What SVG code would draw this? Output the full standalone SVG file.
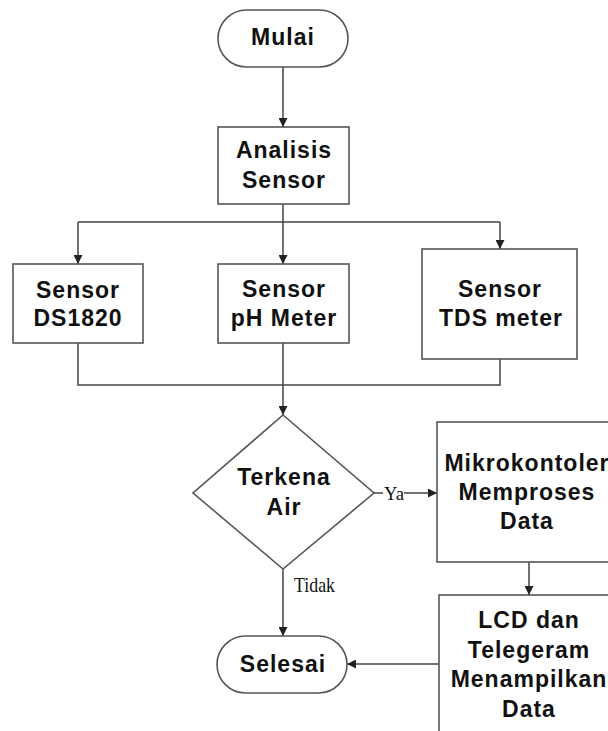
<svg xmlns="http://www.w3.org/2000/svg" width="608" height="731" viewBox="0 0 608 731">
<style>
.shape{fill:#fff;stroke:#555;stroke-width:1.6}
.lbl{font-family:"Liberation Sans",Arial,sans-serif;font-weight:bold;font-size:23px;letter-spacing:1px;fill:#111;text-anchor:middle}
.edge{fill:none;stroke:#444;stroke-width:1.5}
.elbl{font-family:"Liberation Serif","Times New Roman",serif;font-size:19px;fill:#111}
</style>
<defs>
<marker id="ah" viewBox="0 0 10 10" refX="10" refY="5" markerWidth="9" markerHeight="9" markerUnits="userSpaceOnUse" orient="auto">
<path d="M0,0 L10,5 L0,10 z" fill="#222"/>
</marker>
</defs>
<rect width="608" height="731" fill="#fff"/>
<g id="connectors">
<path class="edge" d="M283,67 V127" marker-end="url(#ah)"/>
<path class="edge" d="M283,204 V264" marker-end="url(#ah)"/>
<path class="edge" d="M78,222 H500"/>
<path class="edge" d="M78,222 V264" marker-end="url(#ah)"/>
<path class="edge" d="M500,222 V249" marker-end="url(#ah)"/>
<path class="edge" d="M78,343 V385 H500 V359"/>
<path class="edge" d="M283,343 V415" marker-end="url(#ah)"/>
<path class="edge" d="M374,493 H383"/>
<path class="edge" d="M404,493 H437" marker-end="url(#ah)"/>
<text class="elbl" x="384" y="500" textLength="20" lengthAdjust="spacingAndGlyphs">Ya</text>
<path class="edge" d="M283,569 V636" marker-end="url(#ah)"/>
<text class="elbl" x="294" y="592" style="font-size:21px" textLength="41" lengthAdjust="spacingAndGlyphs">Tidak</text>
<path class="edge" d="M529,562 V595" marker-end="url(#ah)"/>
<path class="edge" d="M439,664 H347" marker-end="url(#ah)"/>
</g>
<g id="mulai">
<rect class="shape" x="218" y="10" width="130" height="57" rx="28.5"/>
<text class="lbl" x="283" y="45">Mulai</text>
</g>
<g id="analisis">
<rect class="shape" x="218" y="127" width="131" height="77"/>
<text class="lbl" x="284" y="158">Analisis</text>
<text class="lbl" x="284" y="188">Sensor</text>
</g>
<g id="ds1820">
<rect class="shape" x="13" y="264" width="130" height="79"/>
<text class="lbl" x="78" y="298">Sensor</text>
<text class="lbl" x="78" y="326">DS1820</text>
</g>
<g id="ph">
<rect class="shape" x="218" y="264" width="131" height="79"/>
<text class="lbl" x="284" y="297">Sensor</text>
<text class="lbl" x="284" y="326">pH Meter</text>
</g>
<g id="tds">
<rect class="shape" x="422" y="249" width="155" height="110"/>
<text class="lbl" x="500" y="297">Sensor</text>
<text class="lbl" x="501" y="326">TDS meter</text>
</g>
<g id="terkena">
<polygon class="shape" points="283,415 374,493 283,569 193,493"/>
<text class="lbl" x="284" y="485">Terkena</text>
<text class="lbl" x="284" y="515">Air</text>
</g>
<g id="mikro">
<rect class="shape" x="437" y="422" width="180" height="140"/>
<text class="lbl" x="527" y="471">Mikrokontoler</text>
<text class="lbl" x="527" y="500">Memproses</text>
<text class="lbl" x="527" y="529">Data</text>
</g>
<g id="lcd">
<rect class="shape" x="439" y="595" width="180" height="150"/>
<text class="lbl" x="529" y="628">LCD dan</text>
<text class="lbl" x="529" y="658">Telegeram</text>
<text class="lbl" x="529" y="687">Menampilkan</text>
<text class="lbl" x="529" y="717">Data</text>
</g>
<g id="selesai">
<rect class="shape" x="217" y="636" width="130" height="57" rx="28.5"/>
<text class="lbl" x="283" y="672">Selesai</text>
</g>
</svg>
